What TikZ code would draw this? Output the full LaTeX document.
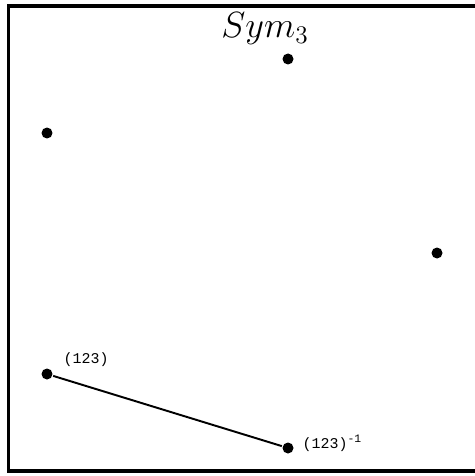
\documentclass[tikz,border=0pt]{standalone}
\usepackage{fontspec}
\newfontfamily\monofont{Liberation Mono}
\usepackage{tikz}

\begin{document}
\begin{tikzpicture}[x=0.02cm, y=-0.02cm, line width=1.1pt,
  elem/.style={circle, fill, inner sep=0pt, minimum size=0.22cm},
  lbl/.style={font=\monofont\fontsize{8.5}{9}\selectfont, inner sep=1pt}]

  \useasboundingbox (0,0) rectangle (474,476);
  \draw[line width=2pt] (8.5,6) rectangle (482,471);

  \node at (265,29) {\huge $Sym_3$};

  \node[elem] (e)   at (288,59)  {};
  \node[elem] (t1)  at (47,133)  {};
  \node[elem] (t2)  at (437,253) {};
  \node[elem] (c)   at (47,374)  {};
  \node[elem] (ci)  at (288,448) {};

  \node[lbl, anchor=south west] at (61,369) {(123)};
  \node[lbl, anchor=west] at (300,443) {(123)\raisebox{0.75ex}{\fontsize{6.5}{7}\selectfont -1}};

  \draw (c) -- (ci);

\end{tikzpicture}
\end{document}
